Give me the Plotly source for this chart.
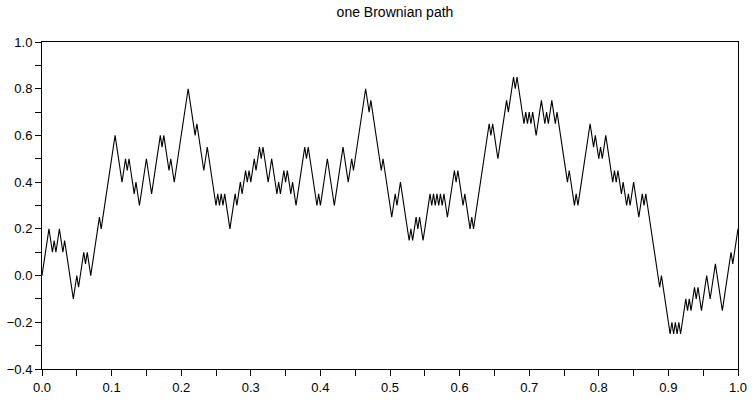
import numpy as np
import plotly.graph_objects as go

# Brownian path values (401 points, t = 0 .. 1)
path_values = [
    0.00, 0.05, 0.10, 0.15, 0.20, 0.15, 0.10, 0.15, 0.10, 0.15, 0.20, 0.15, 0.10, 0.15, 0.10, 0.05, 0.00, -0.05, -0.10, -0.05,
    0.00, -0.05, 0.00, 0.05, 0.10, 0.05, 0.10, 0.05, 0.00, 0.05, 0.10, 0.15, 0.20, 0.25, 0.20, 0.25, 0.30, 0.35, 0.40, 0.45,
    0.50, 0.55, 0.60, 0.55, 0.50, 0.45, 0.40, 0.45, 0.50, 0.45, 0.50, 0.45, 0.40, 0.35, 0.40, 0.35, 0.30, 0.35, 0.40, 0.45,
    0.50, 0.45, 0.40, 0.35, 0.40, 0.45, 0.50, 0.55, 0.60, 0.55, 0.60, 0.55, 0.50, 0.45, 0.50, 0.45, 0.40, 0.45, 0.50, 0.55,
    0.60, 0.65, 0.70, 0.75, 0.80, 0.75, 0.70, 0.65, 0.60, 0.65, 0.60, 0.55, 0.50, 0.45, 0.50, 0.55, 0.50, 0.45, 0.40, 0.35,
    0.30, 0.35, 0.30, 0.35, 0.30, 0.35, 0.30, 0.25, 0.20, 0.25, 0.30, 0.35, 0.30, 0.35, 0.40, 0.35, 0.40, 0.45, 0.40, 0.45,
    0.40, 0.45, 0.50, 0.45, 0.50, 0.55, 0.50, 0.55, 0.50, 0.45, 0.40, 0.45, 0.50, 0.45, 0.40, 0.35, 0.40, 0.35, 0.40, 0.45,
    0.40, 0.45, 0.40, 0.35, 0.40, 0.35, 0.30, 0.35, 0.40, 0.45, 0.50, 0.55, 0.50, 0.55, 0.50, 0.45, 0.40, 0.35, 0.30, 0.35,
    0.30, 0.35, 0.40, 0.45, 0.50, 0.45, 0.40, 0.35, 0.30, 0.35, 0.40, 0.45, 0.50, 0.55, 0.50, 0.45, 0.40, 0.45, 0.50, 0.45,
    0.50, 0.55, 0.60, 0.65, 0.70, 0.75, 0.80, 0.75, 0.70, 0.75, 0.70, 0.65, 0.60, 0.55, 0.50, 0.45, 0.50, 0.45, 0.40, 0.35,
    0.30, 0.25, 0.30, 0.35, 0.30, 0.35, 0.40, 0.35, 0.30, 0.25, 0.20, 0.15, 0.20, 0.15, 0.20, 0.25, 0.20, 0.25, 0.20, 0.15,
    0.20, 0.25, 0.30, 0.35, 0.30, 0.35, 0.30, 0.35, 0.30, 0.35, 0.30, 0.35, 0.30, 0.25, 0.30, 0.35, 0.40, 0.45, 0.40, 0.45,
    0.40, 0.35, 0.30, 0.35, 0.30, 0.25, 0.20, 0.25, 0.20, 0.25, 0.30, 0.35, 0.40, 0.45, 0.50, 0.55, 0.60, 0.65, 0.60, 0.65,
    0.60, 0.55, 0.50, 0.55, 0.60, 0.65, 0.70, 0.75, 0.70, 0.75, 0.80, 0.85, 0.80, 0.85, 0.80, 0.75, 0.70, 0.65, 0.70, 0.65,
    0.70, 0.65, 0.70, 0.65, 0.60, 0.65, 0.70, 0.75, 0.70, 0.65, 0.70, 0.65, 0.70, 0.75, 0.70, 0.65, 0.70, 0.65, 0.60, 0.55,
    0.50, 0.45, 0.40, 0.45, 0.40, 0.35, 0.30, 0.35, 0.30, 0.35, 0.40, 0.45, 0.50, 0.55, 0.60, 0.65, 0.60, 0.55, 0.60, 0.55,
    0.50, 0.55, 0.50, 0.55, 0.60, 0.55, 0.50, 0.45, 0.40, 0.45, 0.40, 0.45, 0.40, 0.35, 0.40, 0.35, 0.30, 0.35, 0.30, 0.35,
    0.40, 0.35, 0.30, 0.25, 0.30, 0.35, 0.30, 0.35, 0.30, 0.25, 0.20, 0.15, 0.10, 0.05, 0.00, -0.05, 0.00, -0.05, -0.10, -0.15,
    -0.20, -0.25, -0.20, -0.25, -0.20, -0.25, -0.20, -0.25, -0.20, -0.15, -0.10, -0.15, -0.10, -0.15, -0.10, -0.05, -0.10, -0.05, -0.10, -0.15,
    -0.10, -0.05, 0.00, -0.05, -0.10, -0.05, 0.00, 0.05, 0.00, -0.05, -0.10, -0.15, -0.10, -0.05, 0.00, 0.05, 0.10, 0.05, 0.10, 0.15,
    0.20,
]
n_steps = len(path_values) - 1
time_grid = np.arange(n_steps + 1) / n_steps

title_text = "one Brownian path"
x_range = [0.0, 1.0]
y_range = [-0.4, 1.0]

font_family = "Liberation Sans, Arial, Helvetica, sans-serif"

W, H = 754, 402

fig = go.Figure()
fig.add_trace(go.Scatter(
    x=time_grid, y=path_values, mode="lines",
    line=dict(color="black", width=1.1),
    showlegend=False, hoverinfo="skip",
))

axis_common = dict(
    showgrid=False, zeroline=False,
    showline=True, linecolor="black", linewidth=1, mirror=True,
    ticks="outside", ticklen=6, tickcolor="black", tickwidth=1,
    tickfont=dict(family=font_family, size=13, color="black"),
    tickformat=".1f",
    ticklabeloverflow="allow",
)

fig.update_layout(
    width=W, height=H,
    margin=dict(l=41, r=7, t=42, b=22),
    paper_bgcolor="white", plot_bgcolor="white",
    title=dict(text=title_text, x=395 / W, xanchor="center",
               y=1 - 12 / H, yanchor="middle",
               font=dict(family=font_family, size=14, color="black")),
    xaxis=dict(range=x_range, dtick=0.1, tick0=0,
               minor=dict(dtick=0.05, ticks="outside", ticklen=6, tickcolor="black"),
               **axis_common),
    yaxis=dict(range=y_range, dtick=0.2, tick0=0,
               minor=dict(dtick=0.1, ticks="outside", ticklen=6, tickcolor="black"),
               **axis_common),
)

fig.write_html(
    "out.html",
    config={"displayModeBar": False, "staticPlot": True},
    post_script="document.body.style.margin='0';document.body.style.overflow='hidden';",
)
